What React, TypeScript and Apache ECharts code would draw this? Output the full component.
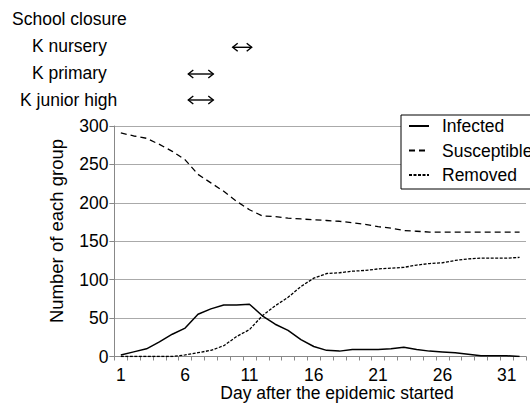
import React, { useEffect, useRef } from "react";
import * as echarts from "echarts";

const days = ["1","2","3","4","5","6","7","8","9","10","11","12","13","14","15","16","17","18","19","20","21","22","23","24","25","26","27","28","29","30","31","32"];
const infected = [2,6,10,19,29,37,55,62,67,67,68,53,42,34,22,13,8,7,9,9,9,10,12,9,7,6,5,3,1,1,1,0];
const susceptible = [291,287,284,276,267,256,237,226,215,202,191,183,182,180,179,178,177,176,174,172,169,167,164,163,162,162,162,162,162,162,162,162];
const removed = [0,0,0,0,0,2,5,8,14,26,35,53,66,77,91,102,108,109,111,112,114,115,116,119,121,122,125,127,128,128,128,129];
const seriesNames = ["Infected", "Susceptible", "Removed"];
const closureLabels = ["School closure", "K nursery", "K primary", "K junior high"];

const FONT = "'Liberation Sans', Arial, Helvetica, sans-serif";

function arrow(x0: number, x1: number, y: number) {
  const h = 4, w = 5;
  const style = { stroke: "#000", lineWidth: 1.4, fill: "none" };
  return {
    type: "group",
    children: [
      { type: "polyline", shape: { points: [[x0 + w, y - h], [x0, y], [x0 + w, y + h]] }, style },
      { type: "line", shape: { x1: x0, y1: y, x2: x1, y2: y }, style },
      { type: "polyline", shape: { points: [[x1 - w, y - h], [x1, y], [x1 - w, y + h]] }, style },
    ],
  };
}

export default function App() {
  const ref = useRef<HTMLDivElement>(null);
  useEffect(() => {
    if (!ref.current) return;
    const chart = echarts.init(ref.current, null, { renderer: "svg" });
    const txt = (text: string, x: number, y: number, extra: any = {}) => ({
      type: "text",
      x,
      y,
      style: { text, fontSize: 17.5, fontFamily: FONT, fill: "#000", verticalAlign: "middle", ...extra },
    });
    chart.setOption({
      animation: false,
      backgroundColor: "#fff",
      textStyle: { fontFamily: FONT },
      grid: { left: 114.4, right: 4, top: 126, bottom: 46.5 },
      legend: {
        data: seriesNames,
        orient: "vertical",
        left: 401,
        top: 115,
        padding: [2, 90, 5, 7],
        itemGap: 6.5,
        itemWidth: 20,
        itemHeight: 14,
        backgroundColor: "#fff",
        borderColor: "#000",
        borderWidth: 1,
        borderRadius: 0,
        itemStyle: { color: "transparent", borderWidth: 0, opacity: 0 },
        textStyle: { fontSize: 17.5, color: "#000", fontFamily: FONT, padding: [0, 0, 0, 8] },
      },
      xAxis: {
        type: "category",
        data: days,
        boundaryGap: true,
        axisLine: { lineStyle: { color: "#888", width: 1 } },
        axisTick: { show: true, interval: 0, length: 4, lineStyle: { color: "#888" } },
        axisLabel: { interval: 4, fontSize: 17.5, color: "#000", margin: 9, fontFamily: FONT },
        splitLine: { show: false },
      },
      yAxis: {
        type: "value",
        min: 0,
        max: 300,
        interval: 50,
        axisLine: { show: true, lineStyle: { color: "#888", width: 1 } },
        axisTick: { show: true, length: 5, lineStyle: { color: "#888" } },
        axisLabel: { fontSize: 17.5, color: "#000", margin: 6, fontFamily: FONT },
        splitLine: { show: true, lineStyle: { color: "#aaa", width: 1 } },
      },
      series: [
        { name: seriesNames[0], type: "line", data: infected, symbol: "none", lineStyle: { color: "#000", width: 1.5, type: "solid" }, itemStyle: { color: "#000" } },
        { name: seriesNames[1], type: "line", data: susceptible, symbol: "none", lineStyle: { color: "#000", width: 1.3, type: [6, 4] }, itemStyle: { color: "#000" } },
        { name: seriesNames[2], type: "line", data: removed, symbol: "none", lineStyle: { color: "#000", width: 1.3, type: [3, 1.5] }, itemStyle: { color: "#000" } },
      ],
      graphic: [
        txt(closureLabels[0], 12, 19),
        txt(closureLabels[1], 32, 46),
        txt(closureLabels[2], 32, 73),
        txt(closureLabels[3], 20, 100),
        arrow(232.7, 251.7, 47.3),
        arrow(188.3, 213.3, 74),
        arrow(188.3, 213.3, 100),
        txt("Day after the epidemic started", 337, 393, { align: "center" }),
        {
          type: "text",
          x: 56,
          y: 231,
          rotation: Math.PI / 2,
          style: { text: "Number of each group", fontSize: 18.5, fontFamily: FONT, fill: "#000", align: "center", verticalAlign: "middle" },
        },
      ],
    });
    return () => chart.dispose();
  }, []);
  return <div ref={ref} style={{ position: "absolute", left: 0, top: 0, width: 530, height: 403 }} />;
}
